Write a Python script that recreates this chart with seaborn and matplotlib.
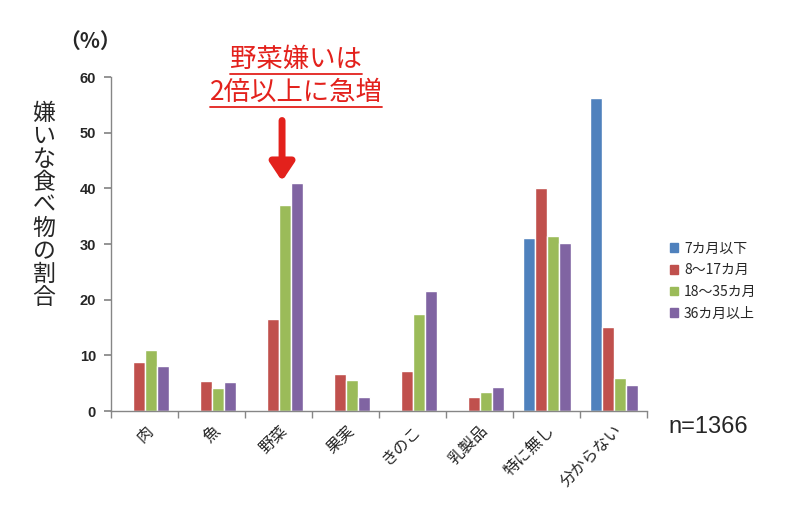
import numpy as np
import pandas as pd
import matplotlib
matplotlib.use("Agg")
import matplotlib.pyplot as plt
from matplotlib.lines import Line2D
import seaborn as sns

# --- data ---
categories = ["肉", "魚", "野菜", "果実", "きのこ", "乳製品", "特に無し", "分からない"]
age_groups = ["7カ月以下", "8～17カ月", "18～35カ月", "36カ月以上"]
v_7m = [0, 0, 0, 0, 0, 0, 31.1, 56.2]
v_8_17 = [8.8, 5.4, 16.6, 6.6, 7.2, 2.5, 40.0, 15.1]
v_18_35 = [11.0, 4.1, 37.0, 5.6, 17.4, 3.4, 31.4, 6.0]
v_36 = [8.1, 5.2, 40.9, 2.5, 21.6, 4.4, 30.2, 4.7]
colors = ["#4F81BD", "#C0504D", "#9BBB59", "#8064A2"]

df = pd.DataFrame({
    "food": categories * 4,
    "age": np.repeat(age_groups, len(categories)),
    "pct": v_7m + v_8_17 + v_18_35 + v_36,
})

sns.set_theme(style="white")
plt.rcParams["font.family"] = ["Noto Sans CJK JP", "DejaVu Sans"]

fig = plt.figure(figsize=(8, 5.07), dpi=100)
ax = fig.add_axes([0.139, 0.189, 0.67, 0.659])

sns.barplot(data=df, x="food", y="pct", hue="age", order=categories,
            hue_order=age_groups, palette=colors, width=0.72,
            saturation=1, ax=ax, legend=False)

ax.set_ylim(0, 60)
ax.set_xlim(-0.5, len(categories) - 0.5)
ax.set_yticks(range(0, 61, 10))
ax.set_yticklabels([str(t) for t in range(0, 61, 10)],
                   family="Liberation Sans", fontweight="bold", fontsize=10.5)
ax.set_xlabel("")
ax.set_ylabel("")
ax.set_xticks(range(len(categories)))
ax.set_xticklabels(categories, rotation=45, ha="right", rotation_mode="anchor",
                   fontsize=11.5)
ax.set_xticks(np.arange(-0.5, len(categories), 1), minor=True)
ax.tick_params(axis="x", which="major", length=0, pad=8)
ax.tick_params(axis="x", which="minor", length=5, direction="out", color="#868686", bottom=True)
ax.tick_params(axis="y", length=5, direction="out", color="#868686", left=True, pad=6)
for s in ["top", "right"]:
    ax.spines[s].set_visible(False)
for s in ["left", "bottom"]:
    ax.spines[s].set_color("#868686")
    ax.spines[s].set_linewidth(1)

# legend
handles = [plt.Rectangle((0, 0), 1, 1, color=c) for c in colors]
fig.legend(handles, age_groups, loc="upper left", bbox_to_anchor=(0.822, 0.548),
           frameon=False, fontsize=10, handlelength=0.6, handleheight=0.6,
           handletextpad=0.4, labelspacing=0.55)

# texts
fig.text(0.113, 0.918, "（%）", fontsize=15, fontweight="bold", ha="center", va="center")
ylab = "\n".join("嫌いな食べ物の割合")
fig.text(0.055, 0.595, ylab, fontsize=16.5, ha="center", va="center", linespacing=1.0)
fig.text(0.835, 0.158, "n=1366", fontsize=17, ha="left", va="center",
         family="Liberation Sans")

red = "#E3211C"
t1 = fig.text(0.37, 0.883, "野菜嫌いは", fontsize=19, color=red, ha="center", va="center")
t2 = fig.text(0.37, 0.817, "2倍以上に急増", fontsize=19, color=red, ha="center", va="center")

ax.annotate("", xy=(2.05, 41.3), xytext=(2.05, 52.2),
            arrowprops=dict(arrowstyle="-|>, head_length=0.9, head_width=0.6",
                            color=red, lw=5, shrinkA=0, shrinkB=0))

# underline the annotation text
fig.canvas.draw()
r = fig.canvas.get_renderer()
for t in (t1, t2):
    bb = t.get_window_extent(r).transformed(fig.transFigure.inverted())
    fig.add_artist(Line2D([bb.x0, bb.x1], [bb.y0 - 0.002, bb.y0 - 0.002],
                          transform=fig.transFigure, color=red, lw=1.3))

fig.savefig("out.png", dpi=100)
